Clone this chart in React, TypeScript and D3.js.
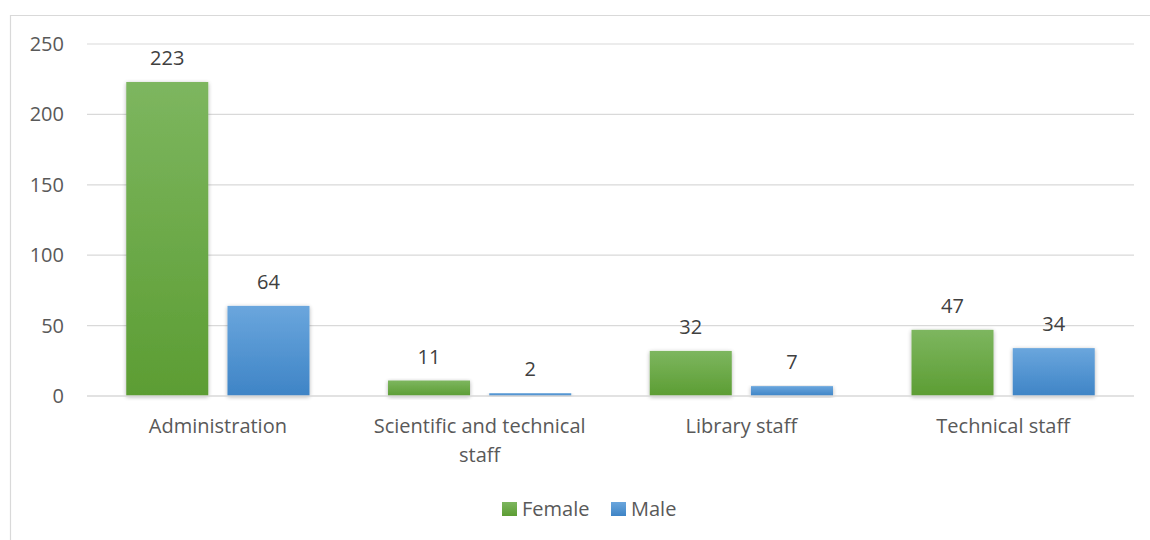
import React from "react";
import * as d3 from "d3";

const categories = ["Administration", "Scientific and technical staff", "Library staff", "Technical staff"];
const categoryLines = [["Administration"], ["Scientific and technical", "staff"], ["Library staff"], ["Technical staff"]];
const female = [223, 11, 32, 47];
const male = [64, 2, 7, 34];
const seriesNames = ["Female", "Male"];
const yTicks = [0, 50, 100, 150, 200, 250];

export default function App() {
  const W = 1150, H = 540;
  const left = 87, right = 1134, top = 44, bottom = 396;
  const x = d3.scaleBand<string>().domain(categories).range([left, right]).paddingInner(0.3).paddingOuter(0.15);
  const x1 = d3.scaleBand<string>().domain(seriesNames).range([0, x.bandwidth()]).paddingInner(0.19);
  const y = d3.scaleLinear().domain([0, 250]).range([bottom, top]);
  const font = "'Open Sans', 'Liberation Sans', sans-serif";
  const fs = 20;
  const data = [female, male];
  const grads = ["gF", "gM"];
  return (
    <svg width={W} height={H} style={{ position: "absolute", left: 0, top: 0 }}>
      <defs>
        <linearGradient id="gF" x1="0" y1="0" x2="0" y2="1">
          <stop offset="0" stopColor="#7db65f" />
          <stop offset="1" stopColor="#5c9d33" />
        </linearGradient>
        <linearGradient id="gM" x1="0" y1="0" x2="0" y2="1">
          <stop offset="0" stopColor="#6aa6dd" />
          <stop offset="1" stopColor="#3e84c6" />
        </linearGradient>
        <filter id="sh" x="-20%" y="-20%" width="140%" height="140%">
          <feGaussianBlur in="SourceAlpha" stdDeviation="2" />
          <feOffset dx="0" dy="1" result="b" />
          <feComponentTransfer><feFuncA type="linear" slope="0.3" /></feComponentTransfer>
          <feMerge><feMergeNode /><feMergeNode in="SourceGraphic" /></feMerge>
        </filter>
      </defs>
      <rect x={0} y={0} width={W} height={H} fill="#fff" />
      <path d={`M10.5,${H} V15.5 H${W}`} fill="none" stroke="#d9d9d9" strokeWidth={1.2} />
      {yTicks.map((t) => (
        <g key={t}>
          {t > 0 && <line x1={left} x2={right} y1={y(t)} y2={y(t)} stroke="#d9d9d9" strokeWidth={1.2} />}
          <text x={64} y={y(t) + 7} textAnchor="end" fontFamily={font} fontSize={fs} fill="#595959">{t}</text>
        </g>
      ))}
      {categories.map((c, i) => (
        <g key={c}>
          {data.map((s, j) => {
            const bx = (x(c) as number) + (x1(seriesNames[j]) as number);
            const bw = x1.bandwidth();
            return (
              <g key={j}>
                <rect x={bx} y={y(s[i])} width={bw} height={bottom - y(s[i])} fill={`url(#${grads[j]})`} filter="url(#sh)" />
                <text x={bx + bw / 2} y={y(s[i]) - 17} textAnchor="middle" fontFamily={font} fontSize={fs} fill="#404040">{s[i]}</text>
              </g>
            );
          })}
          {categoryLines[i].map((ln, k) => (
            <text key={k} x={(x(c) as number) + x.bandwidth() / 2} y={433 + k * 29} textAnchor="middle" fontFamily={font} fontSize={fs} fill="#595959">{ln}</text>
          ))}
        </g>
      ))}
      <line x1={left} x2={right} y1={bottom} y2={bottom} stroke="#d9d9d9" strokeWidth={1.5} />
      {seriesNames.map((n, j) => {
        const lx = j === 0 ? 502 : 611;
        return (
          <g key={n}>
            <rect x={lx} y={502} width={15} height={14} fill={`url(#${grads[j]})`} />
            <text x={lx + 20} y={516} fontFamily={font} fontSize={fs} fill="#595959">{n}</text>
          </g>
        );
      })}
    </svg>
  );
}
